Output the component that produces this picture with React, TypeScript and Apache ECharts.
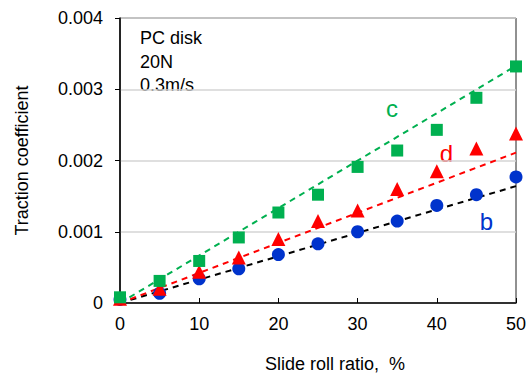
import React, { useEffect, useRef } from "react";
import * as echarts from "echarts";

const slideRatio = [0, 5, 10, 15, 20, 25, 30, 35, 40, 45, 50];
const seriesB = [0.00005, 0.000136, 0.00034, 0.00048, 0.00068, 0.00083, 0.001, 0.00115, 0.00137, 0.00152, 0.00177];
const seriesD = [0.00006, 0.0002, 0.00044, 0.00064, 0.0009, 0.00115, 0.0013, 0.0016, 0.00185, 0.00217, 0.00238];
const seriesC = [0.00008, 0.00031, 0.00059, 0.00092, 0.00127, 0.00152, 0.00191, 0.00214, 0.00243, 0.00288, 0.00332];
const fitB = [0.00164];
const fitD = [0.00211];
const fitC = [0.00333];
const yTicks = [0, 0.001, 0.002, 0.003, 0.004];
const noteLines = ["PC disk", "20N", "0.3m/s"];

const FONT = "'Liberation Sans', Arial, sans-serif";

export default function App() {
  const ref = useRef<HTMLDivElement>(null);
  useEffect(() => {
    if (!ref.current) return;
    const chart = echarts.init(ref.current, undefined, { renderer: "svg" });
    const pts = (vals: number[]) => slideRatio.map((x, i) => [x, vals[i]]);
    const fit = (end: number[]) => [[0, 0], [50, end[0]]];
    const dashLine = (name: string, data: number[][], color: string) => ({
      name,
      type: "line",
      data,
      showSymbol: false,
      symbol: "none",
      z: 2,
      lineStyle: { color, width: 2, type: [6, 5] },
    });
    const label = (text: string, x: number, y: number, fill: string) => ({
      type: "text",
      x,
      y,
      style: { text, fontSize: 24, fill, fontFamily: FONT, align: "center", verticalAlign: "middle" },
    });
    chart.setOption({
      animation: false,
      textStyle: { fontFamily: FONT },
      grid: {
        left: 120,
        right: 14,
        top: 18,
        bottom: 71.5,
        show: true,
        borderColor: "#222",
        borderWidth: 1,
        backgroundColor: "transparent",
      },
      xAxis: {
        type: "value",
        min: 0,
        max: 50,
        interval: 10,
        name: "Slide roll ratio,  %",
        nameLocation: "middle",
        nameGap: 52,
        nameTextStyle: { fontSize: 18, color: "#000", fontFamily: FONT, padding: [0, 0, 0, 34] },
        axisLine: { show: true, lineStyle: { color: "#000", width: 1.5 } },
        axisTick: { show: true, inside: true, length: 5, lineStyle: { color: "#000" } },
        axisLabel: { fontSize: 18, color: "#000", margin: 12, fontFamily: FONT },
        splitLine: { show: false },
      },
      yAxis: {
        type: "value",
        min: yTicks[0],
        max: yTicks[yTicks.length - 1],
        interval: 0.001,
        name: "Traction coefficient",
        nameLocation: "middle",
        nameGap: 89,
        nameRotate: 90,
        nameTextStyle: { fontSize: 18, color: "#000", fontFamily: FONT },
        axisLine: { show: true, lineStyle: { color: "#000", width: 1.5 } },
        axisTick: { show: true, inside: false, length: 5, lineStyle: { color: "#000" } },
        axisLabel: {
          fontSize: 18,
          color: "#000",
          margin: 17,
          fontFamily: FONT,
          formatter: (v: number) => (v === 0 ? "0" : v.toFixed(3)),
        },
        splitLine: { show: true, lineStyle: { color: "#d4d4d4", width: 1.5 } },
      },
      series: [
        dashLine("b fit", fit(fitB), "#000"),
        dashLine("d fit", fit(fitD), "#ff0000"),
        dashLine("c fit", fit(fitC), "#00b050"),
        {
          name: "b",
          type: "scatter",
          data: pts(seriesB),
          symbol: "circle",
          symbolSize: 13,
          z: 3,
          itemStyle: { color: "#0033cc", opacity: 1 },
        },
        {
          name: "d",
          type: "scatter",
          data: pts(seriesD),
          symbol: "triangle",
          symbolSize: 14,
          z: 4,
          itemStyle: { color: "#ff0000", opacity: 1 },
        },
        {
          name: "c",
          type: "scatter",
          data: pts(seriesC),
          symbol: "rect",
          symbolSize: 12,
          z: 5,
          itemStyle: { color: "#00b050", opacity: 1 },
        },
      ],
      graphic: [
        ...noteLines.map((t, i) => ({
          type: "text",
          x: 140,
          y: 38.4 + i * 23.3,
          style: { text: t, fontSize: 18, fill: "#000", fontFamily: FONT, align: "left", verticalAlign: "middle" },
        })),
        label("c", 392, 108, "#00b050"),
        label("d", 446.5, 153, "#ff0000"),
        label("b", 486.5, 221.5, "#0033cc"),
      ],
    });
    return () => chart.dispose();
  }, []);
  return (
    <div
      ref={ref}
      style={{ position: "absolute", left: 0, top: 0, width: 530, height: 378, background: "#fff" }}
    />
  );
}
